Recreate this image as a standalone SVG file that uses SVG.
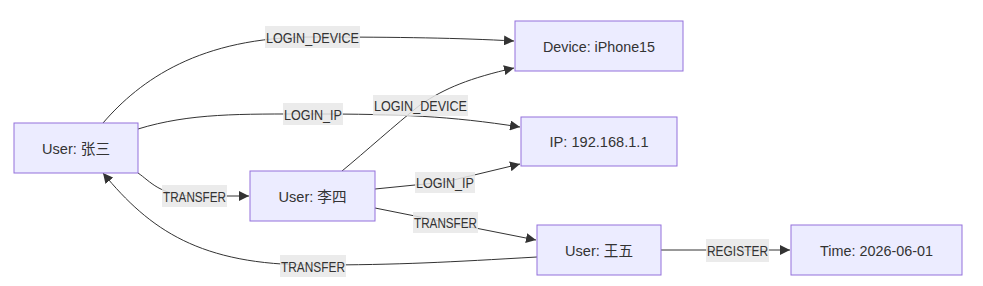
<svg xmlns="http://www.w3.org/2000/svg" width="983" height="286" viewBox="0 0 983 286">
<style>
.node rect{fill:#ECECFF;stroke:#9370DB;stroke-width:1}
.node text{font-family:"Liberation Sans","Noto Sans CJK SC",sans-serif;font-size:15px;fill:#333;text-anchor:middle;dominant-baseline:central}
.edges path{fill:none;stroke:#333;stroke-width:1}
.lbl rect{fill:#e8e8e8;opacity:0.85}
.lbl text{font-family:"Liberation Sans",sans-serif;font-size:15px;fill:#333;text-anchor:middle;dominant-baseline:central}
</style>
<defs>
<marker id="arr" viewBox="0 0 10 10" refX="10" refY="5" markerWidth="10" markerHeight="10" markerUnits="userSpaceOnUse" orient="auto">
<path d="M0,0 L10,5 L0,10 z" fill="#333"/>
</marker>
</defs>
<rect width="983" height="286" fill="#fff"/>
<g id="connectors" class="edges">
<path d="M103,123 C140,80 200,37 312,37 C400,37 460,38 514,41" marker-end="url(#arr)"/>
<path d="M138,129 C190,113 240,114 313,114 C400,114 450,116 520,127" marker-end="url(#arr)"/>
<path d="M342,171 C365,152 395,125 420,105 C445,88 470,78 514,68" marker-end="url(#arr)"/>
<path d="M375,189 L445,182 L520,164" marker-end="url(#arr)"/>
<path d="M375,208 L445,222 L536,240" marker-end="url(#arr)"/>
<path d="M138,173 C150,181 160,196 195,196 L249,196" marker-end="url(#arr)"/>
<path d="M537,257 C450,262 400,265 313,265 C200,265 150,230 103,173" marker-end="url(#arr)"/>
<path d="M661,250 L790,250" marker-end="url(#arr)"/>
</g>
<g id="edge-labels">
<g class="lbl"><rect x="265" y="26" width="95" height="22"/><text x="312.5" y="37" textLength="93" lengthAdjust="spacingAndGlyphs">LOGIN_DEVICE</text></g>
<g class="lbl"><rect x="283" y="103" width="60" height="22"/><text x="313" y="114" textLength="58" lengthAdjust="spacingAndGlyphs">LOGIN_IP</text></g>
<g class="lbl"><rect x="373" y="95" width="95" height="21"/><text x="420.5" y="105.5" textLength="93" lengthAdjust="spacingAndGlyphs">LOGIN_DEVICE</text></g>
<g class="lbl"><rect x="415" y="172" width="60" height="21"/><text x="445" y="182.5" textLength="58" lengthAdjust="spacingAndGlyphs">LOGIN_IP</text></g>
<g class="lbl"><rect x="413" y="212" width="65" height="21"/><text x="445.5" y="222.5" textLength="63" lengthAdjust="spacingAndGlyphs">TRANSFER</text></g>
<g class="lbl"><rect x="162" y="185" width="65" height="22"/><text x="194.5" y="196" textLength="63" lengthAdjust="spacingAndGlyphs">TRANSFER</text></g>
<g class="lbl"><rect x="280" y="255" width="66" height="22"/><text x="313" y="266" textLength="64" lengthAdjust="spacingAndGlyphs">TRANSFER</text></g>
<g class="lbl"><rect x="706" y="239" width="63" height="23"/><text x="737.5" y="250.5" textLength="61" lengthAdjust="spacingAndGlyphs">REGISTER</text></g>
</g>
<g id="zhangsan" class="node"><rect x="14" y="123" width="124" height="50"/><text x="76" y="148" textLength="68" lengthAdjust="spacingAndGlyphs">User: 张三</text></g>
<g id="device" class="node"><rect x="515" y="21" width="168" height="50"/><text x="599" y="46" textLength="112" lengthAdjust="spacingAndGlyphs">Device: iPhone15</text></g>
<g id="ip" class="node"><rect x="521" y="117" width="156" height="49"/><text x="599" y="141.5" textLength="99" lengthAdjust="spacingAndGlyphs">IP: 192.168.1.1</text></g>
<g id="lisi" class="node"><rect x="250" y="171" width="125" height="50"/><text x="312.5" y="196" textLength="68" lengthAdjust="spacingAndGlyphs">User: 李四</text></g>
<g id="wangwu" class="node"><rect x="537" y="225" width="124" height="50"/><text x="599" y="250" textLength="68" lengthAdjust="spacingAndGlyphs">User: 王五</text></g>
<g id="time" class="node"><rect x="791" y="225" width="171" height="50"/><text x="876.5" y="250" textLength="113" lengthAdjust="spacingAndGlyphs">Time: 2026-06-01</text></g>
</svg>
